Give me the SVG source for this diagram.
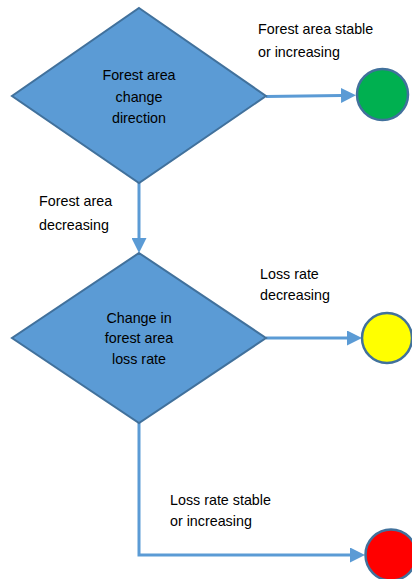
<svg xmlns="http://www.w3.org/2000/svg" width="412" height="579" viewBox="0 0 412 579">
<style>
.dia{fill:#5B9BD5;stroke:#41719C;stroke-width:2}
.term{stroke:#41719C;stroke-width:2.5}
.conn{fill:none;stroke:#5B9BD5;stroke-width:3}
text{font-family:"Liberation Sans",Arial,sans-serif;font-size:14.3px;fill:#000}
.c{text-anchor:middle}
</style>
<defs>
<marker id="ah" viewBox="0 0 10 10" refX="0" refY="5" markerWidth="5" markerHeight="5" orient="auto" markerUnits="strokeWidth">
<path d="M0,0 L10,5 L0,10 z" fill="#5B9BD5"/>
</marker>
</defs>
<rect width="412" height="579" fill="#fff"/>
<g id="connectors">
<path class="conn" d="M266,96.5 L341,95.5" marker-end="url(#ah)"/>
<path class="conn" d="M139,183 L139,238" marker-end="url(#ah)"/>
<path class="conn" d="M266,338 L347,338" marker-end="url(#ah)"/>
<path class="conn" d="M139,423 L139,555 L350,555" marker-end="url(#ah)"/>
<text x="258" y="34">Forest area stable</text>
<text x="258" y="57">or increasing</text>
<text x="39" y="206">Forest area</text>
<text x="39" y="230">decreasing</text>
<text x="260" y="279">Loss rate</text>
<text x="260" y="300">decreasing</text>
<text x="170" y="505">Loss rate stable</text>
<text x="170" y="526">or increasing</text>
</g>
<g id="decision1">
<polygon class="dia" points="139,8 266,96 139,183 12,96"/>
<text class="c" x="139" y="80">Forest area</text>
<text class="c" x="139" y="102">change</text>
<text class="c" x="139" y="123">direction</text>
</g>
<g id="decision2">
<polygon class="dia" points="139,253 266,338 139,423 12,338"/>
<text class="c" x="139" y="323">Change in</text>
<text class="c" x="139" y="343">forest area</text>
<text class="c" x="139" y="364">loss rate</text>
</g>
<g id="green">
<circle class="term" cx="382.5" cy="94.5" r="25.5" fill="#00B050"/>
</g>
<g id="yellow">
<circle class="term" cx="387" cy="338" r="25" fill="#FFFF00"/>
</g>
<g id="red">
<circle class="term" cx="391" cy="555" r="25.5" fill="#FF0000"/>
</g>
</svg>
